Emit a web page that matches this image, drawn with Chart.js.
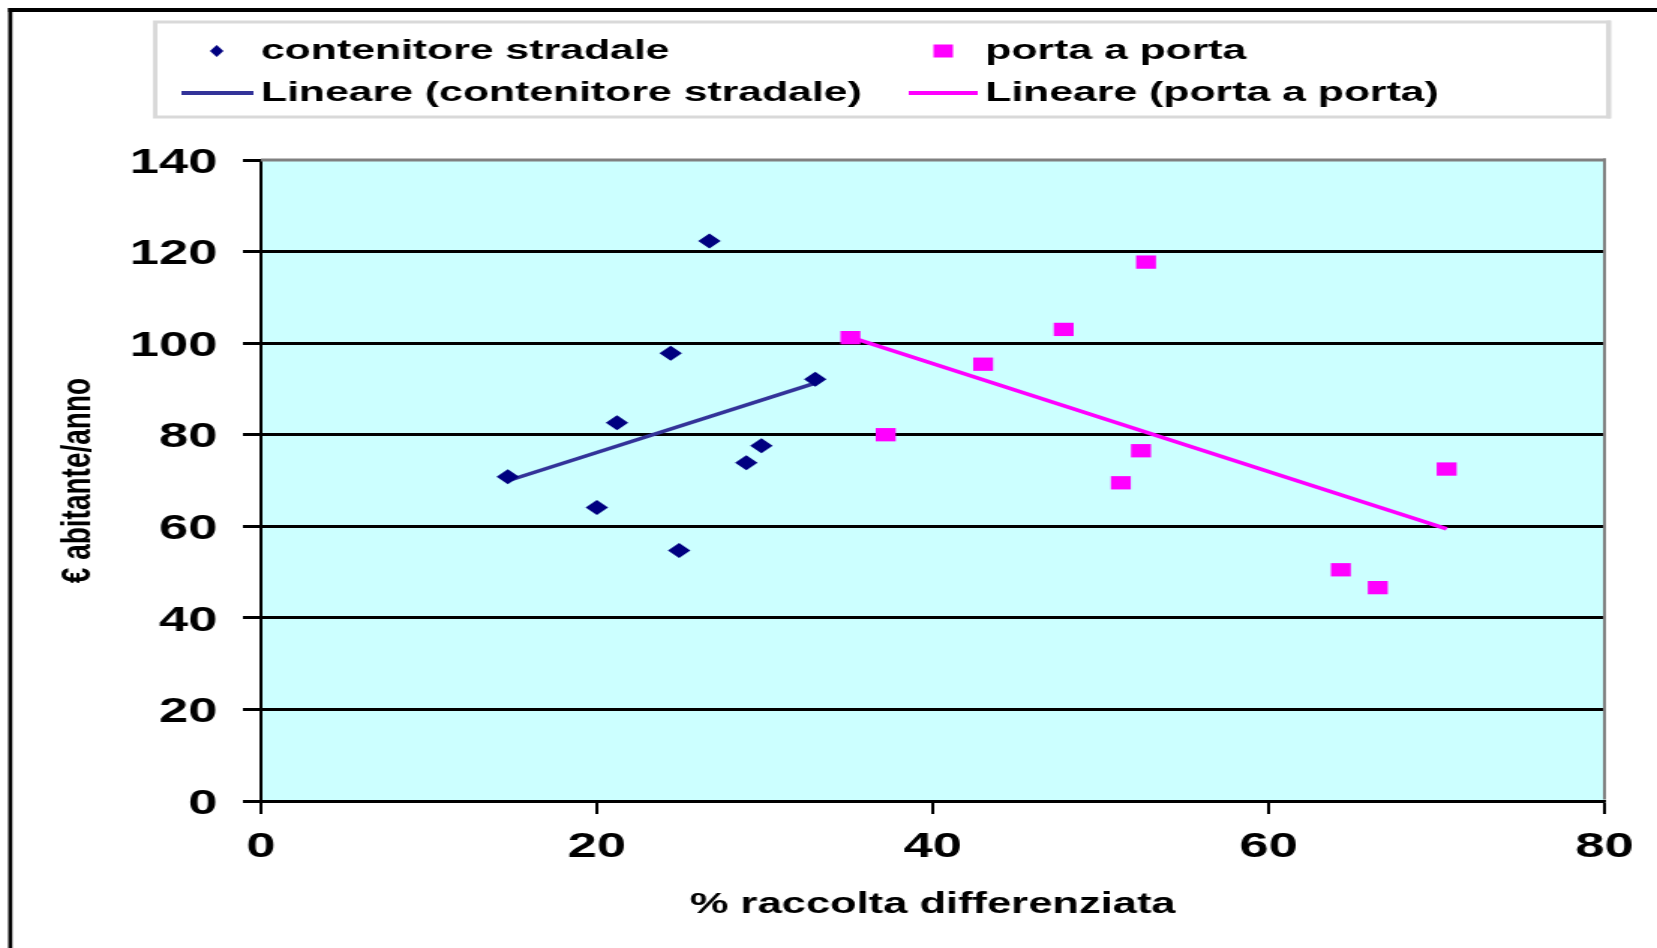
<!DOCTYPE html>
<html><head><meta charset="utf-8">
<script src="https://cdn.jsdelivr.net/npm/chart.js@4/dist/chart.umd.min.js"></script>
<style>
html,body{margin:0;padding:0;background:#fff;overflow:hidden;}
#wrap{position:absolute;left:0;top:0;width:1105px;height:948px;transform:scaleX(1.49955);transform-origin:0 0;}
</style></head><body>
<div id="wrap"><canvas id="c"></canvas></div>
<script>
// ---- data ----
const seriesNames = ['contenitore stradale', 'porta a porta'];
const trendNames = ['Lineare (contenitore stradale)', 'Lineare (porta a porta)'];
const stradaleX = [14.7, 20.0, 21.2, 24.4, 24.9, 26.7, 28.9, 29.8, 33.0];
const stradaleY = [70.8, 64.1, 82.6, 97.8, 54.7, 122.3, 73.9, 77.6, 92.1];
const portaX = [35.1, 37.2, 43.0, 47.8, 51.2, 52.4, 52.7, 64.3, 66.5, 70.6];
const portaY = [101.2, 80.0, 95.4, 103.0, 69.5, 76.5, 117.7, 50.5, 46.6, 72.5];
const xTickValues = [0, 20, 40, 60, 80];
const yTickValues = [0, 20, 40, 60, 80, 100, 120, 140];
const xTitle = '% raccolta differenziata';
const yTitle = '€ abitante/anno';

// ---- helpers ----
function pts(xs, ys) { return xs.map((x, i) => ({ x: x, y: ys[i] })); }
function linFit(xs, ys) {
  const n = xs.length;
  const mx = xs.reduce((a, b) => a + b, 0) / n;
  const my = ys.reduce((a, b) => a + b, 0) / n;
  let sxy = 0, sxx = 0;
  for (let i = 0; i < n; i++) { sxy += (xs[i] - mx) * (ys[i] - my); sxx += (xs[i] - mx) ** 2; }
  const b = sxy / sxx, a = my - b * mx;
  const x0 = Math.min(...xs), x1 = Math.max(...xs);
  return [{ x: x0, y: a + b * x0 }, { x: x1, y: a + b * x1 }];
}

const BLUE_PT = '#000080', BLUE_LN = '#333399', PINK = '#ff00ff';
const FONT = '"Liberation Sans", Arial, sans-serif';

const bgPlugin = {
  id: 'bg',
  beforeDraw(chart) {
    const { ctx, chartArea: a } = chart;
    ctx.save();
    ctx.fillStyle = '#ffffff';
    ctx.fillRect(0, 0, chart.width, chart.height);
    ctx.fillStyle = '#ccffff';
    ctx.fillRect(a.left, a.top, a.right - a.left, a.bottom - a.top);
    ctx.restore();
  },
  afterDraw(chart) {
    const { ctx, chartArea: a } = chart;
    ctx.save();
    // plot area top/right gray border
    ctx.fillStyle = '#808080';
    ctx.fillRect(a.left, a.top - 1.5, a.right - a.left + 1, 3);
    ctx.fillRect(a.right - 1, a.top - 1.5, 2, a.bottom - a.top);
    // outer frame (top + left)
    ctx.fillStyle = '#000';
    ctx.fillRect(5.5, 8, chart.width, 4);
    ctx.fillRect(5.5, 8, 2.7, chart.height);
    // legend box
    const lx = 103.5, ly = 22, lw = 969, lh = 95;
    ctx.fillStyle = '#fff';
    ctx.fillRect(lx, ly, lw, lh);
    ctx.strokeStyle = '#d9d9d9';
    ctx.lineWidth = 3;
    ctx.strokeRect(lx, ly, lw, lh);
    ctx.fillStyle = '#d9d9d9';
    ctx.fillRect(lx + lw - 1, ly - 1.5, 3, lh + 3);
    // legend items
    const ds = chart.data.datasets;
    ctx.font = 'bold 28.5px ' + FONT;
    ctx.textBaseline = 'middle';
    ctx.textAlign = 'left';
    const row1 = 51, row2 = 93;
    // series 1 marker (diamond)
    ctx.fillStyle = ds[0].backgroundColor;
    ctx.beginPath();
    ctx.moveTo(144.5, row1 - 6); ctx.lineTo(149, row1); ctx.lineTo(144.5, row1 + 6); ctx.lineTo(140, row1);
    ctx.closePath(); ctx.fill();
    ctx.fillStyle = '#000';
    ctx.fillText(ds[0].label, 174, row1);
    // series 2 marker (square)
    ctx.fillStyle = ds[1].backgroundColor;
    ctx.fillRect(622.5, row1 - 6.5, 13, 13);
    ctx.fillStyle = '#000';
    ctx.fillText(ds[1].label, 657, row1);
    // trend lines
    ctx.fillStyle = ds[2].borderColor;
    ctx.fillRect(121, row2 - 2, 48, 4);
    ctx.fillStyle = '#000';
    ctx.fillText(ds[2].label, 174, row2);
    ctx.fillStyle = ds[3].borderColor;
    ctx.fillRect(606, row2 - 2, 46, 4);
    ctx.fillStyle = '#000';
    ctx.fillText(ds[3].label, 657, row2);
    ctx.restore();
  }
};

new Chart(document.getElementById('c'), {
  type: 'scatter',
  data: {
    datasets: [
      { label: seriesNames[0], data: pts(stradaleX, stradaleY), backgroundColor: BLUE_PT, borderColor: BLUE_PT,
        pointStyle: 'rectRot', pointRadius: 7.5, borderWidth: 0 },
      { label: seriesNames[1], data: pts(portaX, portaY), backgroundColor: PINK, borderColor: PINK,
        pointStyle: 'rect', pointRadius: 9.4, borderWidth: 0 },
      { label: trendNames[0], data: linFit(stradaleX, stradaleY), showLine: true, borderColor: BLUE_LN,
        backgroundColor: BLUE_LN, borderWidth: 3.5, pointRadius: 0 },
      { label: trendNames[1], data: linFit(portaX, portaY), showLine: true, borderColor: PINK,
        backgroundColor: PINK, borderWidth: 3.5, pointRadius: 0 }
    ]
  },
  options: {
    responsive: true,
    maintainAspectRatio: false,
    animation: false,
    layout: { padding: { left: 35, top: 160, right: 35, bottom: 0 } },
    plugins: { legend: { display: false }, tooltip: { enabled: false } },
    scales: {
      x: {
        type: 'linear', min: 0, max: 80,
        afterBuildTicks: s => { s.ticks = xTickValues.map(v => ({ value: v })); },
        afterFit: s => { s.height = 147; },
        border: { color: '#000', width: 2.5 },
        grid: { drawOnChartArea: false, drawTicks: true, tickLength: 13, color: '#000', tickColor: '#000', lineWidth: 2 },
        ticks: { color: '#000', font: { family: FONT, size: 35, weight: 'bold' }, padding: 12, maxRotation: 0 },
        title: { display: true, text: xTitle, color: '#000', font: { family: FONT, size: 29, weight: 'bold' },
                 padding: { top: 0, bottom: 26 } }
      },
      y: {
        type: 'linear', min: 0, max: 140,
        afterBuildTicks: s => { s.ticks = yTickValues.map(v => ({ value: v })); },
        afterFit: s => { s.width = 139; },
        border: { color: '#000', width: 2 },
        grid: { drawOnChartArea: true, tickLength: 12, lineWidth: 3, tickColor: '#000',
                color: c => (c.tick && c.tick.value === 140) ? 'rgba(0,0,0,0)' : '#000' },
        ticks: { color: '#000', font: { family: FONT, size: 35, weight: 'bold' }, padding: 17, labelOffset: 3 },
        title: { display: true, text: yTitle, color: '#000', font: { family: FONT, size: 28, weight: 'bold' },
                 padding: { top: 0, bottom: 0 } }
      }
    }
  },
  plugins: [bgPlugin]
});
</script>
</body></html>
